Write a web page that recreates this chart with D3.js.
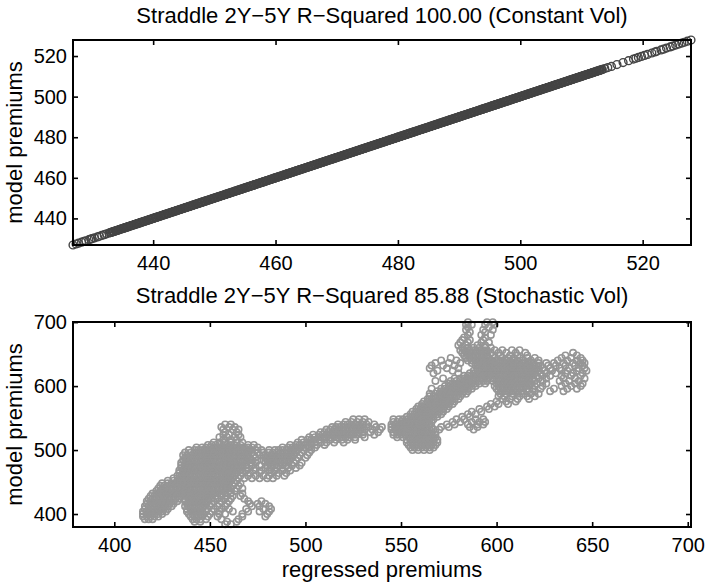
<!DOCTYPE html>
<html>
<head>
<meta charset="utf-8">
<script src="https://cdn.jsdelivr.net/npm/d3@7"></script>
<style>
  html, body { margin: 0; padding: 0; background: #fff; }
  svg { display: block; }
  text { font-family: "Liberation Sans", Arial, Helvetica, sans-serif; fill: #000; }
</style>
</head>
<body>
<svg id="chart" width="706" height="584"></svg>
<script>
// ---------------- data ----------------
const titles = [
  "Straddle 2Y\u22125Y R\u2212Squared 100.00 (Constant Vol)",
  "Straddle 2Y\u22125Y R\u2212Squared 85.88 (Stochastic Vol)"
];
const xLabel = "regressed premiums";
const yLabel = "model premiums";

const constTicks = [440, 460, 480, 500, 520];
const stochTicksX = [400, 450, 500, 550, 600, 650, 700];
const stochTicksY = [400, 500, 600, 700];

// Constant vol: model premium equals regressed premium for every path (R^2 = 100)
const constVolPremiums = [
  426.9,427.4,427.8,428.3,428.7,429.0,429.5,429.8,430.0,430.4,430.9,431.2,431.6,432.0,432.4,432.8,
  433.0,433.1,433.3,433.4,433.5,433.6,433.8,433.9,
  434.0,434.1,434.3,434.4,434.5,434.6,434.8,434.9, 435.0,435.2,435.3,435.4,435.5,435.7,435.8,435.9,
  436.0,436.1,436.3,436.4,436.5,436.6,436.8,436.9, 437.0,437.2,437.3,437.4,437.5,437.7,437.8,437.9,
  438.0,438.1,438.3,438.4,438.5,438.6,438.8,438.9, 439.0,439.2,439.3,439.4,439.5,439.7,439.8,439.9,
  440.0,440.1,440.3,440.4,440.5,440.6,440.8,440.9, 441.0,441.2,441.3,441.4,441.5,441.7,441.8,441.9,
  442.0,442.1,442.3,442.4,442.5,442.6,442.8,442.9, 443.0,443.2,443.3,443.4,443.5,443.7,443.8,443.9,
  444.0,444.1,444.3,444.4,444.5,444.6,444.8,444.9, 445.0,445.2,445.3,445.4,445.5,445.7,445.8,445.9,
  446.0,446.1,446.3,446.4,446.5,446.6,446.8,446.9, 447.0,447.2,447.3,447.4,447.5,447.7,447.8,447.9,
  448.0,448.1,448.3,448.4,448.5,448.6,448.8,448.9, 449.0,449.2,449.3,449.4,449.5,449.7,449.8,449.9,
  450.0,450.1,450.3,450.4,450.5,450.6,450.8,450.9, 451.0,451.2,451.3,451.4,451.5,451.7,451.8,451.9,
  452.0,452.1,452.3,452.4,452.5,452.6,452.8,452.9, 453.0,453.2,453.3,453.4,453.5,453.7,453.8,453.9,
  454.0,454.1,454.3,454.4,454.5,454.6,454.8,454.9, 455.0,455.2,455.3,455.4,455.5,455.7,455.8,455.9,
  456.0,456.1,456.3,456.4,456.5,456.6,456.8,456.9, 457.0,457.2,457.3,457.4,457.5,457.7,457.8,457.9,
  458.0,458.1,458.3,458.4,458.5,458.6,458.8,458.9, 459.0,459.2,459.3,459.4,459.5,459.7,459.8,459.9,
  460.0,460.1,460.3,460.4,460.5,460.6,460.8,460.9, 461.0,461.2,461.3,461.4,461.5,461.7,461.8,461.9,
  462.0,462.1,462.3,462.4,462.5,462.6,462.8,462.9, 463.0,463.2,463.3,463.4,463.5,463.7,463.8,463.9,
  464.0,464.1,464.3,464.4,464.5,464.6,464.8,464.9, 465.0,465.2,465.3,465.4,465.5,465.7,465.8,465.9,
  466.0,466.1,466.3,466.4,466.5,466.6,466.8,466.9, 467.0,467.2,467.3,467.4,467.5,467.7,467.8,467.9,
  468.0,468.1,468.3,468.4,468.5,468.6,468.8,468.9, 469.0,469.2,469.3,469.4,469.5,469.7,469.8,469.9,
  470.0,470.1,470.3,470.4,470.5,470.6,470.8,470.9, 471.0,471.2,471.3,471.4,471.5,471.7,471.8,471.9,
  472.0,472.1,472.3,472.4,472.5,472.6,472.8,472.9, 473.0,473.2,473.3,473.4,473.5,473.7,473.8,473.9,
  474.0,474.1,474.3,474.4,474.5,474.6,474.8,474.9, 475.0,475.2,475.3,475.4,475.5,475.7,475.8,475.9,
  476.0,476.1,476.3,476.4,476.5,476.6,476.8,476.9, 477.0,477.2,477.3,477.4,477.5,477.7,477.8,477.9,
  478.0,478.1,478.3,478.4,478.5,478.6,478.8,478.9, 479.0,479.2,479.3,479.4,479.5,479.7,479.8,479.9,
  480.0,480.1,480.3,480.4,480.5,480.6,480.8,480.9, 481.0,481.2,481.3,481.4,481.5,481.7,481.8,481.9,
  482.0,482.1,482.3,482.4,482.5,482.6,482.8,482.9, 483.0,483.2,483.3,483.4,483.5,483.7,483.8,483.9,
  484.0,484.1,484.3,484.4,484.5,484.6,484.8,484.9, 485.0,485.2,485.3,485.4,485.5,485.7,485.8,485.9,
  486.0,486.1,486.3,486.4,486.5,486.6,486.8,486.9, 487.0,487.2,487.3,487.4,487.5,487.7,487.8,487.9,
  488.0,488.1,488.3,488.4,488.5,488.6,488.8,488.9, 489.0,489.2,489.3,489.4,489.5,489.7,489.8,489.9,
  490.0,490.1,490.3,490.4,490.5,490.6,490.8,490.9, 491.0,491.2,491.3,491.4,491.5,491.7,491.8,491.9,
  492.0,492.1,492.3,492.4,492.5,492.6,492.8,492.9, 493.0,493.2,493.3,493.4,493.5,493.7,493.8,493.9,
  494.0,494.1,494.3,494.4,494.5,494.6,494.8,494.9, 495.0,495.2,495.3,495.4,495.5,495.7,495.8,495.9,
  496.0,496.1,496.3,496.4,496.5,496.6,496.8,496.9, 497.0,497.2,497.3,497.4,497.5,497.7,497.8,497.9,
  498.0,498.1,498.3,498.4,498.5,498.6,498.8,498.9, 499.0,499.2,499.3,499.4,499.5,499.7,499.8,499.9,
  500.0,500.1,500.3,500.4,500.5,500.6,500.8,500.9, 501.0,501.2,501.3,501.4,501.5,501.7,501.8,501.9,
  502.0,502.1,502.3,502.4,502.5,502.6,502.8,502.9, 503.0,503.2,503.3,503.4,503.5,503.7,503.8,503.9,
  504.0,504.1,504.3,504.4,504.5,504.6,504.8,504.9, 505.0,505.2,505.3,505.4,505.5,505.7,505.8,505.9,
  506.0,506.1,506.3,506.4,506.5,506.6,506.8,506.9, 507.0,507.2,507.3,507.4,507.5,507.7,507.8,507.9,
  508.0,508.1,508.3,508.4,508.5,508.6,508.8,508.9, 509.0,509.2,509.3,509.4,509.5,509.7,509.8,509.9,
  510.0,510.1,510.3,510.4,510.5,510.6,510.8,510.9, 511.0,511.2,511.3,511.4,511.5,511.7,511.8,511.9,
  512.0,512.1,512.3,512.4,512.5,512.6,512.8,512.9, 513.0,513.1,513.3,513.4,
  513.8,514.3,514.9,515.8,516.8,517.7,518.5,518.9,519.3,519.8,520.3,520.8,521.5,522.0,522.3,
  523.0,523.4,523.9,524.5,524.9,525.4,525.9,526.4,526.8,527.3,527.9
];

// Stochastic vol: model premium levels, each with the regressed premiums observed at that level
const stochModelLevels = [
  700,696,692,688,684,680,676,672,668,664,660,656,652,648,644,640,636,632,628,624,620,616,612,608,604,600,
  596,592,588,584,580,576,572,568,564,560,556,552,548,544,540,536,532,528,524,520,516,512,508,504,500,
  496,492,488,484,480,476,472,468,464,460,456,452,448,444,440,436,432,428,424,420,416,412,408,404,400,
  396,392,388,384
];
const stochRegressed = [
  [585,595,598],
  [584,587,594,599],
  [585,596],
  [584,593,598],
  [586,594],
  [585,592,597],
  [583,594],
  [582,586,593],
  [581,585,592,596],
  [580,584,590,594],
  [582,585,588,591,594,597],
  [581,583,585,587,589,591,593,595,599,603,608,612],
  [582,584,586,588,590,592,594,597,601,605,610,615,640],
  [583,585,587,589,591,593,595,598,602,607,611,616,636,642],
  [576,584,586,588,590,592,594,596,599,603,606,609,612,616,620,634,639,644],
  [571,579,585,587,589,591,593,595,597,599,601,603,605,607,609,611,614,618,622,632,637,642,645],
  [568,575,581,587,589,591,593,595,597,599,601,603,605,607,609,611,613,615,617,619,622,626,630,635,640,644,646],
  [566,572,578,589,591,593,595,597,599,601,603,605,607,609,611,613,615,617,619,621,623,627,631,636,641,645],
  [565,574,580,590,592,594,596,598,600,602,604,606,608,610,612,614,616,618,620,622,624,628,633,638,643,646],
  [569,577,588,590,592,594,596,598,600,602,604,606,608,610,612,614,616,618,620,622,625,629,634,637,642,647],
  [567,580,586,588,590,592,594,596,598,600,602,604,606,608,610,612,614,616,618,620,623,626,631,636,640,645],
  [583,585,587,589,591,593,595,597,599,601,603,605,607,609,611,613,615,617,619,621,624,628,634,639,644],
  [572,578,581,583,585,587,589,591,593,595,597,599,601,603,605,607,609,611,613,615,617,619,622,626,635,641,646],
  [568,576,579,581,583,585,587,589,591,593,595,598,601,603,605,607,609,611,613,615,617,620,624,633,638,643],
  [575,577,579,581,583,585,587,589,591,594,600,602,604,606,608,610,612,614,616,618,621,626,636,641,645],
  [573,575,577,579,581,583,585,587,589,599,601,603,605,607,609,611,613,615,617,620,624,634,639,644],
  [566,571,573,575,577,579,581,583,585,587,600,602,604,606,608,610,612,614,616,619,623,630,637,642],
  [569,571,573,575,577,579,581,583,585,601,603,605,607,609,611,613,616,620,628,635],
  [565,568,570,572,574,576,578,580,582,584,602,605,608,611,614,618,622],
  [565,567,569,571,573,575,577,579,581,601,604,608,612,616,620],
  [564,566,568,570,572,574,576,578,580,603,607,611,617],
  [562,564,566,568,570,572,574,576,578,600,605,610],
  [561,563,565,567,569,571,573,575,577,597,601,606],
  [559,561,563,565,567,569,571,573,575,595,599],
  [558,560,562,564,566,568,570,572,574,591,596],
  [556,558,560,562,564,566,568,570,572,587,592],
  [555,557,559,561,563,565,567,569,571,585,589],
  [553,555,557,559,561,563,565,567,569,582,586],
  [525,528,531,546,549,551,553,555,557,559,561,563,565,567,579,583,589,593],
  [521,524,527,530,533,546,548,550,552,554,556,558,560,562,564,566,577,581,587,591,594],
  [458,461,517,520,522,524,526,528,530,532,536,545,547,549,551,553,555,557,559,561,563,565,574,578,585,590,593],
  [456,460,463,514,516,518,520,522,524,526,528,530,533,537,540,545,547,549,551,553,555,557,559,561,563,566,571,575,586,590],
  [457,462,465,511,513,515,517,519,521,523,525,527,529,531,535,539,545,547,549,551,553,555,557,559,561,563,565,567,570,588],
  [458,464,508,510,512,514,516,518,520,522,524,526,528,530,534,538,546,548,550,552,554,556,558,560,562,564,566,568],
  [457,460,465,504,507,509,511,513,515,517,519,521,523,525,527,530,536,546,548,550,552,554,556,558,560,562,564,566,568],
  [455,459,463,466,502,505,507,509,511,513,515,517,519,521,523,526,531,548,551,554,556,558,560,562,564,566,568],
  [457,461,464,498,501,503,505,507,510,513,516,519,522,526,553,555,557,559,561,563,565,567,569],
  [452,455,458,461,464,467,496,499,501,503,505,508,511,515,520,553,555,557,559,561,563,565,567,569],
  [449,451,453,455,457,459,461,463,466,470,473,492,495,497,499,501,503,506,510,554,556,558,560,562,564,566,568],
  [443,446,448,450,452,454,456,458,460,462,464,466,468,470,472,475,488,491,493,495,497,499,502,505,555,557,559,561,563,565,567],
  [439,442,444,446,448,450,452,454,456,458,460,462,464,466,468,470,472,474,477,481,484,486,488,490,492,494,496,499,503,556,559,562,565],
  [437,440,442,444,446,448,450,452,454,456,458,460,462,464,466,468,470,472,475,478,481,483,485,487,489,491,493,495,498,502],
  [436,438,440,442,444,446,448,450,452,454,456,458,460,462,464,466,468,470,473,476,478,480,482,484,486,488,490,492,494,497,501],
  [437,439,441,443,445,447,449,451,453,455,457,459,461,463,465,467,469,471,474,479,481,483,485,487,489,491,493,496,500],
  [436,438,440,442,444,446,448,450,452,454,456,458,460,462,464,466,468,470,472,475,478,480,482,484,486,488,490,492,495],
  [435,437,439,441,443,445,447,449,451,453,455,457,459,461,463,465,467,469,471,474,479,481,483,485,487,489,491,494,498],
  [435,437,439,441,443,445,447,449,451,453,455,457,459,461,463,465,467,469,472,476,480,482,484,486,488,490,493,497],
  [435,437,439,441,443,445,447,449,451,453,455,457,459,461,463,465,467,470,474,479,482,485,488,491,495],
  [434,436,438,440,442,444,446,448,450,452,454,456,458,460,462,464,466,469,473,477,481,484,488,492],
  [434,436,438,440,442,444,446,448,450,452,454,456,458,460,462,464,467,471,476,482,486,490],
  [433,435,437,439,441,443,445,447,449,451,453,455,457,459,461,463,466,470,474,478,481,485,489],
  [431,434,436,438,440,442,444,446,448,450,452,454,456,458,460,462,465,468,472,476,480,483],
  [428,431,433,435,437,439,441,443,445,447,449,451,453,455,457,459,461,464],
  [425,428,430,432,434,436,438,440,442,444,446,448,450,452,454,456,458,460,463,466],
  [424,426,428,430,432,434,436,438,440,442,444,446,448,450,452,454,456,458,460,462,465],
  [423,425,427,429,431,433,435,437,439,441,443,445,447,449,451,453,455,457,459,461,464,467],
  [422,424,426,428,430,432,434,436,438,440,442,444,446,448,450,452,454,456,458,460,463],
  [420,422,424,426,428,430,432,434,436,438,440,442,444,446,448,450,452,454,456,458,461,467],
  [419,421,423,425,427,429,431,433,435,437,439,441,443,445,447,449,451,453,456,459,462,466],
  [418,420,422,424,426,428,430,432,434,437,439,441,443,445,447,449,451,454,458,461,468],
  [417,419,421,423,425,427,429,431,433,437,439,441,443,445,447,449,452,456,460,470,477],
  [417,419,421,423,425,427,429,431,438,440,442,444,446,448,451,455,459,471,475,479],
  [416,418,420,422,424,426,428,430,437,439,441,443,445,447,450,454,458,472,476,481],
  [416,418,420,422,424,426,428,438,440,442,444,446,448,452,456,460,469,478,482],
  [415,417,419,421,423,425,427,438,440,442,444,446,448,451,455,462,470,476,481],
  [415,417,419,421,423,425,439,441,443,445,447,450,455,458,467,480],
  [415,417,419,421,423,440,442,444,446,449,454,467,479],
  [416,418,420,441,443,445,448,456,465],
  [442,445,459,464],
  [458,461]
];

// ---------------- layout ----------------
const svg = d3.select("#chart");
const plotLeft = 73, plotRight = 691;

const constPoints = constVolPremiums.map(v => ({ x: v, y: v }));
const stochPoints = [];
stochModelLevels.forEach((level, i) => {
  stochRegressed[i].forEach(r => stochPoints.push({ x: r, y: level }));
});

const panels = [
  {
    top: 40, bottom: 245, titleY: 23,
    xDomain: [426.9, 527.9], yDomain: [426.9, 527.9],
    xTicks: constTicks, yTicks: constTicks,
    title: titles[0], points: constPoints, color: "#444444",
    radius: 3.9, strokeWidth: 1.4, xLabel: null
  },
  {
    top: 322, bottom: 527, titleY: 303,
    xDomain: [378.4, 701.7], yDomain: [379.7, 700.2],
    xTicks: stochTicksX, yTicks: stochTicksY,
    title: titles[1], points: stochPoints, color: "#969696",
    radius: 3.2, strokeWidth: 1.6, xLabel: xLabel
  }
];

panels.forEach(p => {
  const x = d3.scaleLinear().domain(p.xDomain).range([plotLeft, plotRight]);
  const y = d3.scaleLinear().domain(p.yDomain).range([p.bottom, p.top]);
  const g = svg.append("g");

  // markers
  g.append("g")
    .selectAll("circle")
    .data(p.points)
    .join("circle")
    .attr("cx", d => x(d.x))
    .attr("cy", d => y(d.y))
    .attr("r", p.radius)
    .attr("fill", "none")
    .attr("stroke", p.color)
    .attr("stroke-width", p.strokeWidth);

  // axes: inward ticks on all four sides
  const styleAxis = sel => {
    sel.select(".domain").remove();
    sel.selectAll(".tick line").attr("stroke", "#000").attr("stroke-width", 1.6);
    sel.selectAll(".tick text")
      .attr("fill", "#000")
      .style("font-family", '"Liberation Sans", Arial, Helvetica, sans-serif')
      .style("font-size", "20px");
  };
  g.append("g").attr("transform", `translate(0,${p.bottom})`)
    .call(d3.axisBottom(x).tickValues(p.xTicks).tickSizeInner(-5).tickSizeOuter(0).tickPadding(11).tickFormat(d3.format("d")))
    .call(styleAxis);
  g.append("g").attr("transform", `translate(0,${p.top})`)
    .call(d3.axisTop(x).tickValues(p.xTicks).tickSizeInner(-5).tickSizeOuter(0).tickFormat(() => ""))
    .call(styleAxis);
  g.append("g").attr("transform", `translate(${plotLeft},0)`)
    .call(d3.axisLeft(y).tickValues(p.yTicks).tickSizeInner(-5).tickSizeOuter(0).tickPadding(6).tickFormat(d3.format("d")))
    .call(styleAxis);
  g.append("g").attr("transform", `translate(${plotRight},0)`)
    .call(d3.axisRight(y).tickValues(p.yTicks).tickSizeInner(-5).tickSizeOuter(0).tickFormat(() => ""))
    .call(styleAxis);

  // box
  g.append("rect")
    .attr("x", plotLeft).attr("y", p.top)
    .attr("width", plotRight - plotLeft).attr("height", p.bottom - p.top)
    .attr("fill", "none").attr("stroke", "#000").attr("stroke-width", 2);

  // title
  g.append("text")
    .attr("x", (plotLeft + plotRight) / 2).attr("y", p.titleY)
    .attr("text-anchor", "middle")
    .style("font-size", "22px")
    .text(p.title);

  // y label
  g.append("text")
    .attr("transform", `translate(22,${(p.top + p.bottom) / 2}) rotate(-90)`)
    .attr("text-anchor", "middle")
    .style("font-size", "22px")
    .text(yLabel);

  if (p.xLabel) {
    g.append("text")
      .attr("x", (plotLeft + plotRight) / 2).attr("y", 577)
      .attr("text-anchor", "middle")
      .style("font-size", "22px")
      .text(p.xLabel);
  }
});
</script>
</body>
</html>
